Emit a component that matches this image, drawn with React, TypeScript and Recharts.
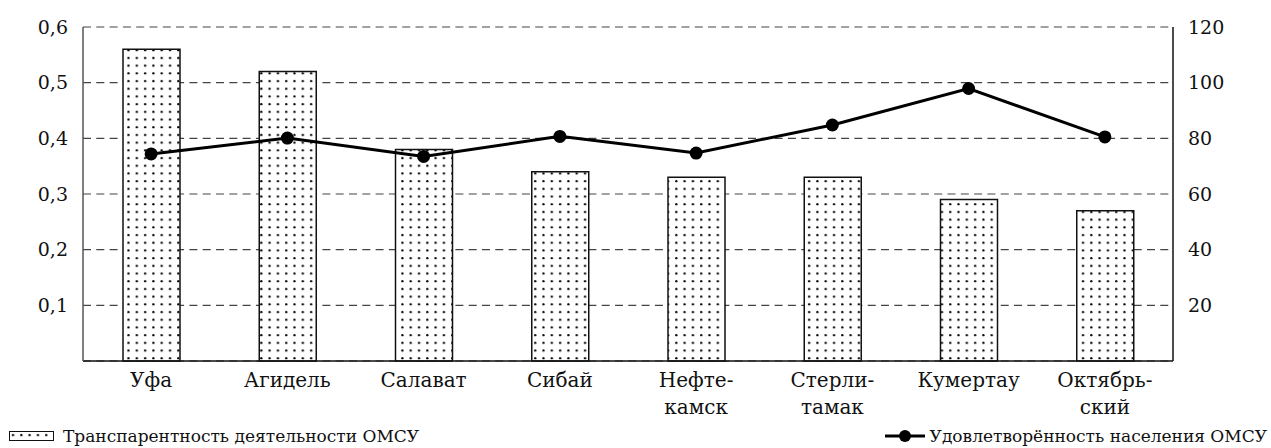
import React from "react";
import {
  ComposedChart,
  Bar,
  Line,
  XAxis,
  YAxis,
  CartesianGrid,
  Legend,
} from "recharts";

const cities = [
  "Уфа",
  "Агидель",
  "Салават",
  "Сибай",
  "Нефте-\nкамск",
  "Стерли-\nтамак",
  "Кумертау",
  "Октябрь-\nский",
];
const transparency = [0.56, 0.52, 0.38, 0.34, 0.33, 0.33, 0.29, 0.27];
const satisfaction = [74.4, 80.1, 73.5, 80.7, 74.7, 84.8, 97.9, 80.5];
const leftTicks = [0.1, 0.2, 0.3, 0.4, 0.5, 0.6];
const rightTicks = [20, 40, 60, 80, 100, 120];

const barName = "Транспарентность деятельности ОМСУ";
const lineName = "Удовлетворённость населения ОМСУ";

const FONT = '"DejaVu Serif", serif';

const data = cities.map((c, i) => ({
  city: c,
  transparency: transparency[i],
  satisfaction: satisfaction[i],
}));

function CityTick(props: any) {
  const { x, y, payload } = props;
  const lines = String(payload.value).split("\n");
  return (
    <text
      x={x}
      y={y}
      textAnchor="middle"
      style={{ fontFamily: FONT, fontSize: 20 }}
      fill="#111"
    >
      {lines.map((l, i) => (
        <tspan key={i} x={x} dy={i === 0 ? 18 : 27}>
          {l}
        </tspan>
      ))}
    </text>
  );
}

function ChartLegend() {
  return (
    <div
      style={{
        display: "flex",
        justifyContent: "space-between",
        alignItems: "center",
        height: 25,
        fontFamily: FONT,
        fontSize: 17,
        color: "#111",
        padding: "0 4px 0 9px",
      }}
    >
      <div style={{ display: "flex", alignItems: "center" }}>
        <svg width={45} height={10} style={{ marginRight: 9 }}>
          <rect x={0.5} y={0.5} width={44} height={9} fill="url(#dots)" stroke="#111" strokeWidth={1} />
        </svg>
        <span>{barName}</span>
      </div>
      <div style={{ display: "flex", alignItems: "center" }}>
        <svg width={40} height={14} style={{ marginRight: 5 }}>
          <line x1={0} y1={7} x2={40} y2={7} stroke="#000" strokeWidth={3} />
          <circle cx={20} cy={7} r={6} fill="#000" />
        </svg>
        <span>{lineName}</span>
      </div>
    </div>
  );
}

export default function App() {
  return (
    <div style={{ position: "absolute", left: 0, top: 0, width: 1271, height: 448, background: "#fff", fontFamily: FONT }}>
      <ComposedChart
        width={1271}
        height={448}
        data={data}
        margin={{ top: 27, right: 0, bottom: 0, left: 0 }}
        style={{ fontFamily: FONT }}
      >
        <defs>
          <pattern id="dots" width={8.3} height={7.7} patternUnits="userSpaceOnUse">
            <rect width={8.3} height={7.7} fill="#fff" />
            <circle cx={4} cy={4} r={1.15} fill="#000" />
          </pattern>
        </defs>
        <CartesianGrid
          yAxisId="left"
          vertical={false}
          stroke="#444"
          strokeWidth={1.2}
          strokeDasharray="8 5.3"
        />
        <XAxis
          dataKey="city"
          tick={<CityTick />}
          tickLine={false}
          interval={0}
          height={62}
          axisLine={{ stroke: "#111", strokeWidth: 1.5 }}
        />
        <YAxis
          yAxisId="left"
          domain={[0, 0.6]}
          ticks={leftTicks}
          width={83}
          tickLine={false}
          axisLine={{ stroke: "#555", strokeWidth: 1.5 }}
          tickMargin={9}
          tickFormatter={(v: number) => v.toFixed(1).replace(".", ",")}
          tick={{ style: { fontFamily: FONT, fontSize: 19 }, fill: "#111" }}
        />
        <YAxis
          yAxisId="right"
          orientation="right"
          domain={[0, 120]}
          ticks={rightTicks}
          width={98}
          tickLine={false}
          axisLine={{ stroke: "#111", strokeWidth: 1.5 }}
          tickMargin={9}
          tick={{ style: { fontFamily: FONT, fontSize: 19 }, fill: "#111", textAnchor: "start" }}
        />
        <Legend verticalAlign="bottom" height={25} content={<ChartLegend />} />
        <Bar
          yAxisId="left"
          dataKey="transparency"
          name={barName}
          barSize={57}
          fill="url(#dots)"
          stroke="#111"
          strokeWidth={1.5}
          isAnimationActive={false}
        />
        <Line
          yAxisId="right"
          dataKey="satisfaction"
          name={lineName}
          type="linear"
          stroke="#000"
          strokeWidth={3}
          dot={{ r: 6.5, fill: "#000", stroke: "#000", strokeWidth: 0 }}
          activeDot={false}
          isAnimationActive={false}
        />
      </ComposedChart>
    </div>
  );
}
